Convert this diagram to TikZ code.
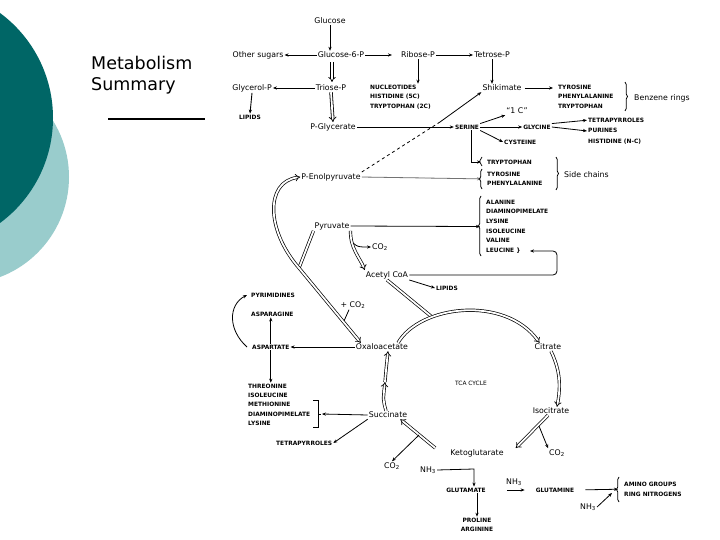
\documentclass[tikz,border=0pt]{standalone}
\usepackage{fontspec}
\setmainfont{DejaVu Sans}
\usetikzlibrary{arrows.meta,decorations.pathreplacing}
\definecolor{darkteal}{RGB}{0,102,102}
\definecolor{lightteal}{RGB}{153,204,204}
\begin{document}
\begin{tikzpicture}[x=1pt,y=-1pt,
  mc/.style={font=\fontsize{7.8}{9}\selectfont, inner sep=1pt},
  uc/.style={font=\bfseries\fontsize{5.9}{9.6}\selectfont, inner sep=1pt, align=left},
  arr/.style={-{Stealth[length=4pt,width=3.2pt]}, line width=0.8pt},
  ln/.style={line width=0.8pt},
  dbl/.style={double, double distance=1.8pt, line width=0.7pt, -{Implies}},
  dbln/.style={double, double distance=1.8pt, line width=0.7pt},
  br/.style={decorate, decoration={brace, amplitude=2.5pt}, line width=0.7pt},
]
\useasboundingbox (0,0) rectangle (720,540);
\fill[white] (0,0) rectangle (720,540);
% slide decoration
\fill[lightteal] (-38,177) circle (107pt);
\fill[darkteal] (-77.5,118) circle (130.5pt);
\node[anchor=base west, inner sep=0pt, font=\fontsize{17.5}{21}\selectfont] (t1) at (91,69.5) {Metabolism};
\node[anchor=base west, inner sep=0pt, font=\fontsize{17.5}{21}\selectfont] (t2) at (91,91) {Summary};
\draw[line width=2pt] (108,119) -- (205,119);

% nodes
\node[mc] (glc) at (330,21) {Glucose};
\node[mc] (osug) at (258,55) {Other sugars};
\node[mc] (g6p) at (341,55) {Glucose-6-P};
\node[mc] (rib) at (418,55) {Ribose-P};
\node[mc] (tet) at (492,55) {Tetrose-P};
\node[mc] (glyp) at (252,88) {Glycerol-P};
\node[mc] (tri) at (331,88) {Triose-P};
\node[uc, anchor=north west] (nuc) at (369,83.7) {NUCLEOTIDES\\HISTIDINE (5C)\\TRYPTOPHAN (2C)};
\node[uc] (lip1) at (250,117) {LIPIDS};
\node[mc] (pgly) at (333,127) {P-Glycerate};
\node[uc] (ser) at (467,127) {SERINE};
\node[mc] (shik) at (502,88) {Shikimate};
\node[uc, anchor=north west] (aro) at (557,83.7) {TYROSINE\\PHENYLALANINE\\TRYPTOPHAN};
\node[mc, anchor=west] (benz) at (633,98) {Benzene rings};
\node[mc] (onec) at (517,111) {``1 C''};
\node[uc] (gly) at (537,127) {GLYCINE};
\node[uc, anchor=north west, font=\bfseries\fontsize{5.9}{10.5}\selectfont] (tpy) at (587,116.7) {TETRAPYRROLES\\PURINES\\HISTIDINE (N-C)};
\node[uc, anchor=west] (cys) at (503,142) {CYSTEINE};
\node[mc] (pep) at (331,177) {P-Enolpyruvate};
\node[uc, anchor=west] (trp) at (486,162) {TRYPTOPHAN};
\node[uc, anchor=north west] (tyr) at (486,170.7) {TYROSINE\\PHENYLALANINE};
\node[mc, anchor=west] (side) at (563,175) {Side chains};
\node[mc] (pyr) at (332,226) {Pyruvate};
\node[uc, anchor=north west] (ala) at (485,198.7) {ALANINE\\DIAMINOPIMELATE\\LYSINE\\ISOLEUCINE\\VALINE\\LEUCINE~\}};
\node[mc] (co2a) at (380,247) {CO\textsubscript{2}};
\node[mc] (acoa) at (387,275) {Acetyl CoA};
\node[uc] (lip2) at (447,288) {LIPIDS};
\node[uc, anchor=west] (pyrim) at (250,295) {PYRIMIDINES};
\node[mc] (pco2) at (353,305) {+ CO\textsubscript{2}};
\node[uc, anchor=west] (asn) at (250,314) {ASPARAGINE};
\node[uc, anchor=west] (asp) at (251,347) {ASPARTATE};
\node[mc] (oaa) at (382,347) {Oxaloacetate};
\node[mc] (cit) at (548,347) {Citrate};
\node[uc, font=\fontsize{5.9}{7}\selectfont] (tca) at (471,383) {TCA CYCLE};
\node[uc, anchor=north west, font=\bfseries\fontsize{5.9}{9.25}\selectfont] (thr) at (247,382.7) {THREONINE\\ISOLEUCINE\\METHIONINE\\DIAMINOPIMELATE\\LYSINE};
\node[mc] (suc) at (388,415) {Succinate};
\node[mc] (iso) at (551,411) {Isocitrate};
\node[uc, anchor=west] (tpy2) at (275,443) {TETRAPYRROLES};
\node[mc] (akg) at (477,453) {Ketoglutarate};
\node[mc] (co2b) at (557,453) {CO\textsubscript{2}};
\node[mc] (co2c) at (392,466) {CO\textsubscript{2}};
\node[mc] (nh3a) at (428,470) {NH\textsubscript{3}};
\node[uc] (glu) at (466,490) {GLUTAMATE};
\node[mc] (nh3b) at (514,482) {NH\textsubscript{3}};
\node[uc] (gln) at (555,490) {GLUTAMINE};
\node[uc, anchor=north west] (amino) at (623,481) {AMINO GROUPS\\RING NITROGENS};
\node[mc] (nh3c) at (588,507) {NH\textsubscript{3}};
\node[uc, align=center, anchor=north] (pro) at (477,516.7) {PROLINE\\ARGININE};

% coordinates
\coordinate (dm) at (440,122);
\coordinate (leu) at (530,251);
\coordinate (jn) at (299,268);
\coordinate (co2j) at (344,321);
\coordinate (aj) at (432,317);
\coordinate (ij) at (539,426);
\coordinate (kj) at (419,435);
\coordinate (sm) at (385,382);
\coordinate (brk) at (322,414);
\coordinate (gj) at (474,469);
\coordinate (amj) at (612,493);
\coordinate (t1c) at (332,62);
\coordinate (t1d) at (332,82);

% top
\draw[arr] (glc.south) -- (glc.south |- g6p.north);
\draw[arr] (g6p.west) -- (osug.east);
\draw[arr, shorten >=8pt] (g6p.east) -- (rib.west);
\draw[arr] (rib.east) -- (tet.west);
\draw[dbl] (t1c) -- (t1d);
\draw[arr] (rib.south) -- (rib.south |- nuc.north);
\draw[arr] (tri.west) -- (glyp.east);
\draw[arr] (pgly.east) -- (ser.west);
\draw[arr] (tet.south) -- (tet.south |- shik.north);
\draw[ln, dashed] (pep.north east) -- (dm);
\draw[arr] (dm) -- (shik.south west);
\draw[arr, shorten <=2pt, shorten >=4pt] (shik.east) -- (aro.west |- shik.east);
\draw[br] (625,82) -- (625,111);
\draw[arr] (ser.north east) -- (onec.south west);
\draw[arr] (ser.east) -- (gly.west);
\draw[arr] (gly.north east) -- ([yshift=-3.5pt]tpy.north west);
\draw[arr] (gly.east) -- (tpy.west);
\draw[arr] (ser.south east) -- (cys.west);
\draw[arr] ([xshift=4pt]ser.south) |- ([xshift=-5pt]trp.west);
\draw[br] (482,166) -- (482,157);
\draw[arr, draw=black!55, fill=black!55] (pep.east) -- ([xshift=-5pt]tyr.west);
\draw[br] (482,189) -- (482,169);
\draw[br] (556,157) -- (556,190);
\draw[arr] (pyr.east) -- ([xshift=-5pt]ala.west);
\draw[br] (481,256) -- (481,196);
\draw[arr, rounded corners=4pt] (acoa.east) -- (557,275) -- (557,251) -- (leu);
\draw[dbl] (pyr.south east) .. controls (350,248) and (360,258) .. (acoa.north west);
\draw[arr] (353,243) .. controls (358,247) .. (co2a.west);
\draw[arr] (acoa.south east) -- (lip2.west);

% PEP / pyruvate -> oxaloacetate
\draw[dbln] (pyr.south west) -- (jn);
\draw[double, double distance=1.8pt, line width=0.7pt, Implies-Implies] (pep.west) .. controls (265,182) and (266,230) .. (jn) -- ([xshift=6pt]oaa.north west);
\draw[ln] ([xshift=-4pt]pco2.south) -- (co2j);

% TCA cycle
\draw[dbln] (acoa.south) -- (aj);
\draw[dbl] ([xshift=16pt]oaa.north) .. controls (420,305) and (505,295) .. ([xshift=6pt]cit.north west);
\draw[dbl] ([xshift=3pt]cit.south) .. controls (560,370) and (561,385) .. ([xshift=6pt]iso.north);
\draw[dbl] ([xshift=-3pt]iso.south) -- ([xshift=11pt]akg.north east);
\draw[arr] (ij) -- (co2b.north west);
\draw[dbl] ([xshift=-14pt]akg.north west) -- ([xshift=-8pt]suc.south east);
\draw[arr] (kj) -- (co2c.north);
\draw[dbl] ([xshift=-2pt]suc.north) .. controls (383,400) .. (sm);
\draw[dbl] (sm) .. controls (386,370) .. ([xshift=6pt]oaa.south);

% aspartate family
\draw[arr] (oaa.west) -- (asp.east);
\draw[arr] (asp.north) -- (asp.north |- asn.south);
\draw[arr] (asp.south) -- (asp.south |- thr.north);
\draw[arr] ([xshift=-4pt]asp.west) .. controls (228,330) and (228,305) .. ([xshift=-3pt]pyrim.west);
\draw[ln] (313,400) -- (318,400) -- (318,427) -- (313,427);
\draw[ln] (318,414) -- (321,414);
\draw[arr] (suc.west) -- (brk);
\draw[arr] (suc.south west) -- (tpy2.east);

% glutamate
\draw[arr] (nh3a.east) -- (gj) -- (gj |- glu.north);
\draw[arr, shorten <=20pt, shorten >=10pt] (glu.east) -- (gln.west);
\draw[arr, shorten <=10pt] (gln.east) -- ([xshift=-5pt]amino.west);
\draw[br] (619,502) -- (619,477);
\draw[arr] (nh3c.east) -- (amj);
\draw[arr] (pro.north |- glu.south) -- (pro.north);

% triose / glycerol verticals
\draw[double, double distance=1.8pt, line width=0.8pt, -{Implies}] (tri.south) -- (pgly.north);
\draw[-{Stealth[length=4pt,width=3.2pt]}, line width=0.9pt] (glyp.south) -- (lip1.north);
\end{tikzpicture}
\end{document}
